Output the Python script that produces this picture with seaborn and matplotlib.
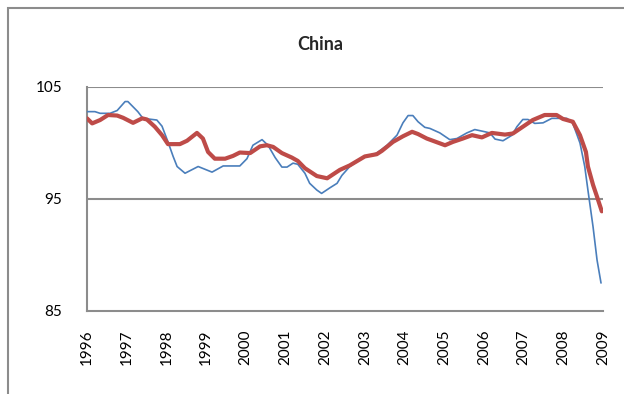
import matplotlib
matplotlib.use("Agg")
import matplotlib.pyplot as plt
from matplotlib.patches import Rectangle
from matplotlib.ticker import MultipleLocator
import seaborn as sns
import pandas as pd

# ---- data ----
blue_years = [1996.00, 1996.20, 1996.33, 1996.58, 1996.76, 1996.96, 1997.03, 1997.28, 1997.41,
              1997.76, 1997.89, 1998.04, 1998.17, 1998.27, 1998.47, 1998.80, 1999.15, 1999.43,
              1999.85, 2000.03, 2000.18, 2000.41, 2000.56, 2000.74, 2000.91, 2001.04, 2001.19,
              2001.31, 2001.49, 2001.61, 2001.79, 2001.91, 2002.12, 2002.30, 2002.42, 2002.62,
              2002.95, 2003.30, 2003.56, 2003.81, 2003.96, 2004.09, 2004.21, 2004.34, 2004.51,
              2004.64, 2004.89, 2005.14, 2005.32, 2005.57, 2005.77, 2006.03, 2006.15, 2006.28,
              2006.48, 2006.71, 2006.83, 2006.98, 2007.11, 2007.28, 2007.49, 2007.71, 2008.09,
              2008.24, 2008.42, 2008.54, 2008.62, 2008.75, 2008.85, 2008.95]
blue_values = [102.8, 102.8, 102.65, 102.65, 102.9, 103.7, 103.7, 102.8, 102.2,
               102.05, 101.5, 100.1, 98.8, 97.9, 97.3, 97.9, 97.4, 97.95,
               97.95, 98.6, 99.8, 100.3, 99.8, 98.7, 97.85, 97.85, 98.2,
               98.1, 97.3, 96.4, 95.8, 95.5, 96.0, 96.4, 97.1, 97.9,
               98.7, 99.1, 99.8, 100.7, 101.8, 102.45, 102.45, 101.9, 101.4,
               101.3, 100.9, 100.3, 100.4, 100.9, 101.2, 101.0, 100.9, 100.35,
               100.2, 100.7, 101.45, 102.1, 102.1, 101.75, 101.8, 102.2, 102.2,
               101.75, 100.0, 97.9, 95.8, 92.5, 89.55, 87.5]

red_years = [1996.00, 1996.13, 1996.33, 1996.53, 1996.76, 1996.91, 1997.16, 1997.39, 1997.51,
             1997.71, 1997.89, 1998.04, 1998.34, 1998.52, 1998.77, 1998.92, 1999.05, 1999.22,
             1999.48, 1999.68, 1999.85, 2000.11, 2000.36, 2000.53, 2000.69, 2000.91, 2001.16,
             2001.31, 2001.49, 2001.79, 2002.05, 2002.37, 2002.62, 2003.00, 2003.30, 2003.43,
             2003.71, 2003.96, 2004.19, 2004.34, 2004.56, 2005.02, 2005.22, 2005.47, 2005.70,
             2005.95, 2006.20, 2006.53, 2006.73, 2006.98, 2007.23, 2007.53, 2007.83, 2007.99,
             2008.24, 2008.42, 2008.57, 2008.62, 2008.75, 2008.85, 2008.97]
red_values = [102.2, 101.75, 102.05, 102.5, 102.45, 102.25, 101.8, 102.2, 102.1,
              101.45, 100.7, 99.9, 99.9, 100.2, 100.9, 100.4, 99.2, 98.6,
              98.6, 98.85, 99.15, 99.1, 99.7, 99.8, 99.65, 99.1, 98.7,
              98.4, 97.75, 97.05, 96.85, 97.6, 98.0, 98.8, 99.0, 99.3,
              100.1, 100.6, 101.0, 100.8, 100.4, 99.8, 100.1, 100.4, 100.7,
              100.5, 100.9, 100.75, 100.85, 101.45, 102.05, 102.5, 102.5, 102.15,
              101.9, 100.7, 99.2, 97.9, 96.25, 95.2, 93.9]

year_labels = ["1996", "1997", "1998", "1999", "2000", "2001", "2002",
               "2003", "2004", "2005", "2006", "2007", "2008", "2009"]
y_ticks = [85, 95, 105]
title = "China"

df = pd.concat([
    pd.DataFrame({"year": blue_years, "value": blue_values, "series": "blue"}),
    pd.DataFrame({"year": red_years, "value": red_values, "series": "red"}),
], ignore_index=True)

# ---- plot ----
sns.set_style("white")
plt.rcParams["font.family"] = ["Lato", "DejaVu Sans"]

fig = plt.figure(figsize=(6.24, 3.94), dpi=100)
ax = fig.add_axes([87 / 624, 1 - 311 / 394, (603 - 87) / 624, (311 - 87) / 394])

grid_col = "#8c8c8c"
for yv in y_ticks[1:]:
    ax.axhline(yv, color=grid_col, lw=1.5, zorder=0)

sns.lineplot(data=df[df.series == "blue"], x="year", y="value", ax=ax,
             color="#4A7EBB", lw=1.2, legend=False, zorder=3, sort=False)
sns.lineplot(data=df[df.series == "red"], x="year", y="value", ax=ax,
             color="#BE4B48", lw=3.0, legend=False, zorder=4, sort=False)

ax.set_xlim(1996, 2009)
ax.set_ylim(85, 105)
ax.set_yticks(y_ticks)
ax.set_yticklabels([str(v) for v in y_ticks], fontsize=11)
ax.set_xticks([int(y) for y in year_labels])
ax.set_xticklabels(year_labels, rotation=90, fontsize=11)
ax.xaxis.set_minor_locator(MultipleLocator(0.5))
ax.set_xlabel("")
ax.set_ylabel("")

for s in ["top", "right"]:
    ax.spines[s].set_visible(False)
for s in ["left", "bottom"]:
    ax.spines[s].set_color(grid_col)
    ax.spines[s].set_linewidth(1.5)

ax.tick_params(axis="both", which="both", direction="out", color=grid_col,
               width=1.2, length=5, colors="black")
ax.tick_params(axis="both", which="both", color=grid_col)
ax.tick_params(axis="x", which="both", length=5, pad=8)
ax.tick_params(axis="y", pad=13)
ax.tick_params(axis="x", which="minor", length=5, color=grid_col, width=1.2)

fig.text(320 / 624, 1 - 44 / 394, title, ha="center", va="center",
         fontsize=13, fontweight="bold")

# outer chart frame (cropped at right and bottom)
fig.patches.append(Rectangle((8 / 624, -0.1), 1.2, 1.1 - 8 / 394,
                             transform=fig.transFigure, fill=False,
                             edgecolor="#8c8c8c", lw=1.5))

fig.savefig("out.png", dpi=100)
